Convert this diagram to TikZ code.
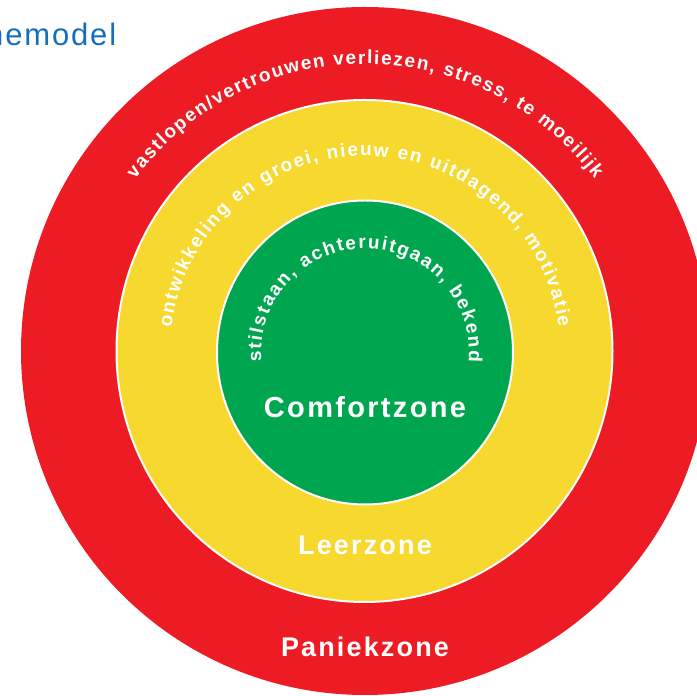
\documentclass[tikz,border=0pt]{standalone}
\usepackage{fontspec}
\setmainfont{Liberation Sans}
\newfontfamily\arcfont{Liberation Sans}
\newfontfamily\labfont{Liberation Sans}[LetterSpace=8]
\newfontfamily\titlefont{Liberation Sans}[LetterSpace=6]
\definecolor{zred}{RGB}{237,28,36}
\definecolor{zyellow}{RGB}{246,216,46}
\definecolor{zgreen}{RGB}{0,165,80}
\definecolor{zblue}{RGB}{20,110,185}
\newcommand\ArcFont{\arcfont\bfseries\fontsize{19}{19}\selectfont}
\tikzset{
  zonelabel/.style={text=white, anchor=base, inner sep=0pt,
    font=\labfont\bfseries\fontsize{27}{27}\selectfont},
  ringborder/.style={draw=white, line width=2pt},
  arcchar/.style={text=white, anchor=base, inner sep=0pt, font=\ArcFont},
}
\newcommand\ArcPlace[4]{\node[arcchar, rotate=#3] at (#1,#2) {#4};}
\ExplSyntaxOn
\box_new:N \l__arc_box
\fp_new:N \l__arc_total_fp
\fp_new:N \l__arc_k_fp
\fp_new:N \l__arc_theta_fp
\fp_new:N \l__arc_w_fp
\fp_new:N \l__arc_a_fp
\int_new:N \l__arc_n_int
\tl_new:N \g__arc_out_tl
\cs_new_protected:Npn \__arc_measure:n #1
 {
  \str_if_eq:nnTF {#1} {~}
   { \hbox_set:Nn \l__arc_box { \ArcFont \c_space_tl } }
   { \hbox_set:Nn \l__arc_box { \ArcFont #1 } }
 }
% #1 cx, #2 cy, #3 radius, #4 centre angle, #5 tracking, #6 text
\NewDocumentCommand \ArcPrepare { m m m m m m }
 {
  \fp_zero:N \l__arc_total_fp
  \int_zero:N \l__arc_n_int
  \str_map_inline:nn {#6}
   {
    \__arc_measure:n {##1}
    \fp_add:Nn \l__arc_total_fp { \dim_to_fp:n { \box_wd:N \l__arc_box } }
    \int_incr:N \l__arc_n_int
   }
  \fp_add:Nn \l__arc_total_fp { #5 * ( \l__arc_n_int - 1 ) }
  \fp_set:Nn \l__arc_k_fp { 180 / ( pi * #3 ) }
  \fp_set:Nn \l__arc_theta_fp { #4 + \l__arc_total_fp * \l__arc_k_fp / 2 }
  \str_map_inline:nn {#6}
   {
    \__arc_measure:n {##1}
    \fp_set:Nn \l__arc_w_fp { \dim_to_fp:n { \box_wd:N \l__arc_box } }
    \fp_set:Nn \l__arc_a_fp { \l__arc_theta_fp - \l__arc_w_fp * \l__arc_k_fp / 2 }
    \str_if_eq:nnF {##1} {~}
     {
      \tl_gput_right:Nx \g__arc_out_tl
       {
        \exp_not:N \ArcPlace
         { \fp_eval:n { round ( #1 + #3 * cosd ( \l__arc_a_fp ) , 4 ) } }
         { \fp_eval:n { round ( #2 + #3 * sind ( \l__arc_a_fp ) , 4 ) } }
         { \fp_eval:n { round ( \l__arc_a_fp - 90 , 4 ) } }
         { \exp_not:n {##1} }
       }
     }
    \fp_sub:Nn \l__arc_theta_fp { ( \l__arc_w_fp + #5 ) * \l__arc_k_fp }
   }
 }
\NewDocumentCommand \ArcOutput { } { \tl_use:N \g__arc_out_tl }
\ExplSyntaxOff
\begin{document}
\ArcPrepare{365}{345}{287}{90}{1.6}{vastlopen/vertrouwen verliezen, stress, te moeilijk}%
\ArcPrepare{365}{345}{195}{90}{1.75}{ontwikkeling en groei, nieuw en uitdagend, motivatie}%
\ArcPrepare{365}{343.5}{104}{90}{1.8}{stilstaan, achteruitgaan, bekend}%
\begin{tikzpicture}[x=1pt,y=1pt]
\useasboundingbox (0,0) rectangle (697,696);
\clip (0,0) rectangle (697,696);
\coordinate (C) at (365,345);
\coordinate (CG) at (365,343.5);
% rings
\fill[zred] (C) circle[radius=344];
\filldraw[ringborder, fill=zyellow] (364.5,345) ellipse[x radius=248, y radius=251];
\filldraw[ringborder, fill=zgreen] (CG) ellipse[x radius=148, y radius=152];
% curved texts (one node per character)
\ArcOutput
% zone labels
\node[zonelabel, font=\labfont\bfseries\fontsize{29}{29}\selectfont] (comfort) at (365,278) {Comfortzone};
\node[zonelabel] (leer) at (365,141) {Leerzone};
\node[zonelabel] (paniek) at (365,39) {Paniekzone};
% title fragment
\node[anchor=base west, inner sep=0pt, text=zblue,
  font=\titlefont\fontsize{31}{31}\selectfont] (title) at (-14,650) {nemodel};
\end{tikzpicture}
\end{document}
